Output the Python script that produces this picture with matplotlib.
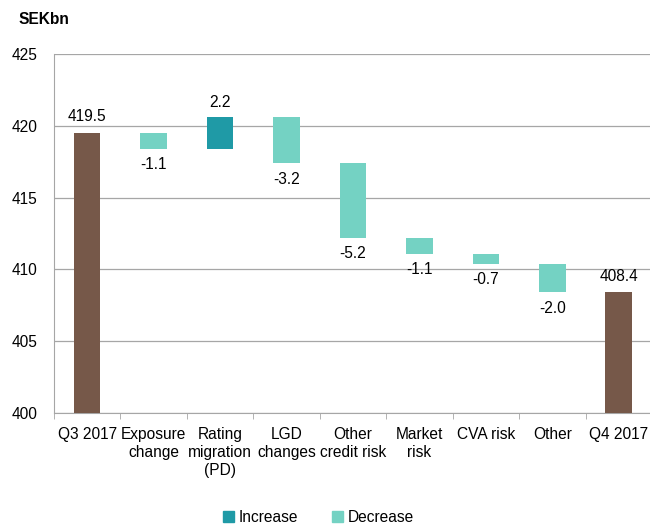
import matplotlib
matplotlib.use("Agg")
import matplotlib.pyplot as plt
from matplotlib.patches import Patch

plt.rcParams['font.family'] = ['Liberation Sans', 'DejaVu Sans']

categories = ["Q3 2017", "Exposure\nchange", "Rating\nmigration\n(PD)", "LGD\nchanges",
              "Other\ncredit risk", "Market\nrisk", "CVA risk", "Other", "Q4 2017"]
start_value = 419.5
changes = [-1.1, 2.2, -3.2, -5.2, -1.1, -0.7, -2.0]
end_value = 408.4
yticks = [400, 405, 410, 415, 420, 425]

c_total = "#765849"
c_inc = "#1F9AA6"
c_dec = "#74D2C3"

fs = 11.2
fig = plt.figure(figsize=(6.5, 5.26), dpi=100)
ax = fig.add_axes([0.083, 0.215, 0.92, 0.682])

base = 400
w = 0.4
ax.bar(0, start_value - base, bottom=base, width=w, color=c_total, zorder=3)
ax.text(0, start_value + 0.6, f"{start_value:.1f}", ha="center", va="bottom", fontsize=fs)
level = start_value
for i, ch in enumerate(changes, start=1):
    new = level + ch
    lo, hi = min(level, new), max(level, new)
    ax.bar(i, hi - lo, bottom=lo, width=w, color=c_inc if ch > 0 else c_dec, zorder=3)
    if ch > 0:
        ax.text(i, hi + 0.5, f"{ch:.1f}", ha="center", va="bottom", fontsize=fs)
    else:
        ax.text(i, lo - 0.6, f"{ch:.1f}", ha="center", va="top", fontsize=fs)
    level = new
n = len(categories) - 1
ax.bar(n, end_value - base, bottom=base, width=w, color=c_total, zorder=3)
ax.text(n, end_value + 0.6, f"{end_value:.1f}", ha="center", va="bottom", fontsize=fs)

ax.set_xlim(-0.5, n + 0.5)
ax.set_ylim(400, 425)
ax.set_yticks(yticks)
ax.yaxis.grid(True, color="#A6A6A6", linewidth=0.9, zorder=0)
ax.tick_params(axis="y", length=0, labelsize=fs, pad=12)
ax.set_xticks(range(len(categories)))
ax.set_xticklabels(categories, fontsize=fs, linespacing=1.25)
ax.tick_params(axis="x", length=0, pad=10)
ax.set_xticks([i + 0.5 for i in range(-1, n + 1)], minor=True)
ax.tick_params(axis="x", which="minor", length=4, color="#A6A6A6", direction="out")
for s in ["top", "right"]:
    ax.spines[s].set_visible(False)
ax.spines["left"].set_color("#A6A6A6")
ax.spines["bottom"].set_color("#A6A6A6")

fig.text(0.028, 0.963, "SEKbn", fontsize=fs, fontweight="bold", ha="left", va="center")

handles = [Patch(color=c_inc, label="Increase"), Patch(color=c_dec, label="Decrease")]
fig.legend(handles=handles, loc="center", bbox_to_anchor=(0.49, 0.016), ncol=2, frameon=False,
           fontsize=fs, handlelength=0.7, handleheight=0.7, handletextpad=0.3, columnspacing=2.2)

fig.savefig("out.png", dpi=100)
